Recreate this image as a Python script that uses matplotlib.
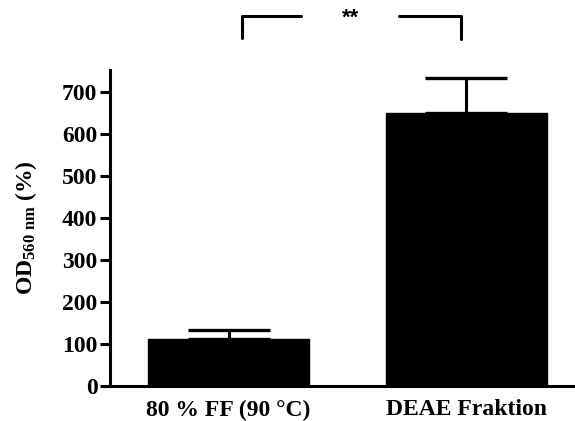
import matplotlib
matplotlib.use("Agg")
import matplotlib.pyplot as plt

plt.rcParams['font.family'] = 'Liberation Serif'
plt.rcParams['font.weight'] = 'bold'
plt.rcParams['mathtext.fontset'] = 'custom'
plt.rcParams['mathtext.rm'] = 'Liberation Serif:bold'
plt.rcParams['mathtext.it'] = 'Liberation Serif:bold'
plt.rcParams['mathtext.bf'] = 'Liberation Serif:bold'

# dados
grupos = ["80 % FF (90 °C)", "DEAE Fraktion"]
valores = [110, 649]
erros = [22, 85]
signif = "**"

fig = plt.figure(figsize=(5.75, 4.21), dpi=100)
ax = fig.add_axes([0.1913, 0.0843, 0.8087, 0.7494])

x = list(range(len(grupos)))
ax.bar(x, valores, width=0.676, color='black', edgecolor='black')
ax.errorbar(x, valores, yerr=[[0, 0], erros], fmt='none', ecolor='black',
            elinewidth=2.2, capsize=29.5, capthick=2.4)

ax.set_xlim(-0.498, 1.456)
ax.set_ylim(0, 752)
ax.set_yticks(range(0, 701, 100))
ax.set_xticks(x)
ax.set_xticklabels(grupos, fontsize=17, fontweight='bold')
ax.tick_params(axis='x', length=0, pad=10)
ax.tick_params(axis='y', length=7, width=2.2, labelsize=17, pad=2)
for lbl in ax.get_yticklabels():
    lbl.set_fontweight('bold')

for s in ['top', 'right']:
    ax.spines[s].set_visible(False)
for s in ['left', 'bottom']:
    ax.spines[s].set_linewidth(2.2)

ax.set_ylabel(r'OD$_{\mathrm{560\ nm}}$ (%)', fontsize=17, fontweight='bold', labelpad=17)

# colchete de significância
y_top = 880
kw = dict(color='black', lw=2.2, clip_on=False, solid_capstyle='round')
ax.plot([0.057, 0.057, 0.303], [829, y_top, y_top], **kw)
ax.plot([0.716, 0.976, 0.976], [y_top, y_top, 826], **kw)
ax.text(0.513, y_top - 5, signif, ha='center', va='center', fontsize=16,
        family='Liberation Sans', fontweight='bold', clip_on=False)

fig.savefig("out.png", dpi=100)
